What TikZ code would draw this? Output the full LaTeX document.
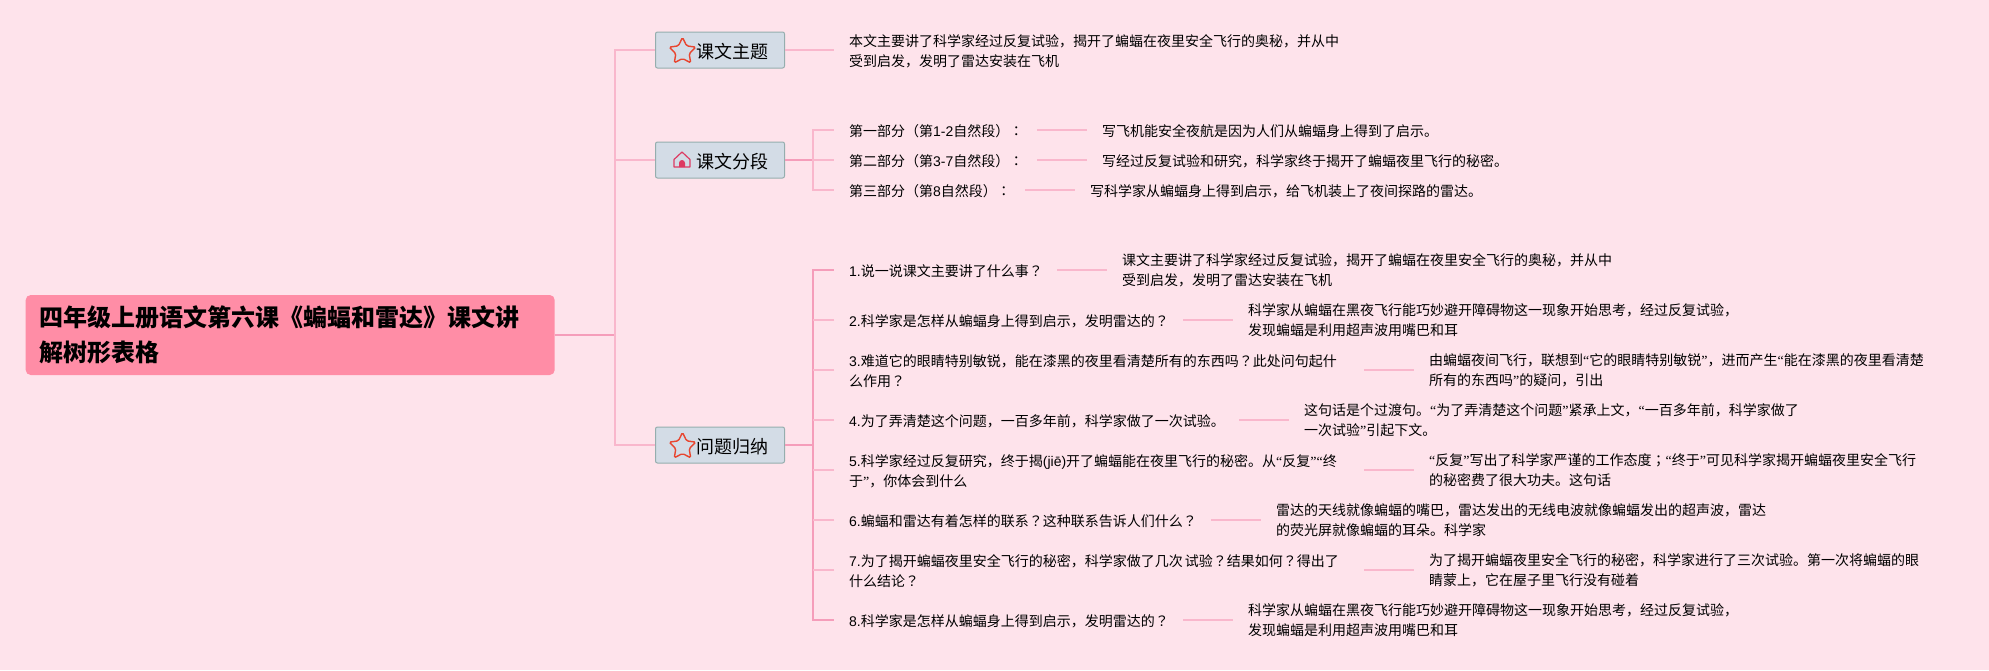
\documentclass[tikz,border=0pt]{standalone}
\usepackage{fontspec}
\usetikzlibrary{shapes.geometric}
\setmainfont{Noto Sans CJK SC}
\newfontfamily\punctfont{Noto Sans CJK TC}
\newfontfamily\latinfont{Liberation Sans}
\newfontfamily\quotefont{Liberation Serif}
\newcommand{\lat}[1]{\mbox{\latinfont #1}}
\newcommand{\qt}[1]{{\quotefont #1}}
\newcommand{\qmark}{{\punctfont ？}}
\newcommand{\cmark}{{\punctfont ：}}
\newcommand{\smark}{{\punctfont ；}}
\definecolor{mapbg}{HTML}{FEE3EB}
\definecolor{rootpink}{HTML}{FF8DA6}
\definecolor{boxfill}{HTML}{D3DCE6}
\definecolor{boxline}{HTML}{95AEAE}
\definecolor{linkdark}{HTML}{F59DBA}
\definecolor{linklight}{HTML}{F9B7CC}
\definecolor{iconred}{HTML}{E8452F}
\definecolor{iconrose}{HTML}{DD3A62}
\tikzset{
  rootnode/.style={fill=rootpink, rounded corners=5pt, inner xsep=14pt, inner ysep=0pt,
    minimum height=80pt, text width=501pt, align=left, anchor=west,
    font=\fontsize{24}{35}\selectfont\bfseries},
  topicnode/.style={draw=boxline, line width=1pt, fill=boxfill, rounded corners=2pt,
    inner xsep=16pt, inner ysep=0pt, minimum height=36pt, text width=97pt, align=right,
    anchor=west, font=\fontsize{18}{20}\selectfont,
    execute at begin node={\rule{0pt}{18pt}}},
  leafnode/.style={inner xsep=15pt, inner ysep=0pt, align=left, anchor=west,
    font=\fontsize{14}{20}\selectfont,
    execute at begin node={\rule{0pt}{15pt}}},
  mainlink/.style={draw=linklight, line width=1.4pt},
  thicklink/.style={draw=linkdark, line width=2pt},
  leaflink/.style={draw=linklight, line width=1.6pt},
  stariconn/.style={star, star points=5, star point ratio=2.0, draw=iconred, line width=1.4pt,
    minimum size=28pt, inner sep=0pt, rounded corners=1.5pt},
}
\begin{document}
\begin{tikzpicture}[x=1pt,y=-1pt]
  \fill[mapbg] (0,0) rectangle (1989,670);
  \useasboundingbox (0,0) rectangle (1989,670);

  % root and the three topics
  \node[rootnode] (root) at (25.5,335) {四年级上册语文第六课《蝙蝠和雷达》课文讲\\解树形表格};
  \node[topicnode] (theme) at (655,50) {课文主题};
  \node[topicnode] (parts) at (655,160) {课文分段};
  \node[topicnode] (asks) at (655,445) {问题归纳};
  \coordinate (trunk) at (615,335);
  \coordinate (partfork) at (813,160);
  \coordinate (askfork) at (813,445);

  % first column
  \node[leafnode, text width=500pt] (themetext) at (834,50) {本文主要讲了科学家经过反复试验，揭开了蝙蝠在夜里安全飞行的奥秘，并从中\\受到启发，发明了雷达安装在飞机};

  \node[leafnode, text width=173pt] (parta) at (834,130) {\mbox{第一部分（第\lat{1-2}自然段）\cmark}};
  \node[leafnode, text width=173pt] (partb) at (834,160) {\mbox{第二部分（第\lat{3-7}自然段）\cmark}};
  \node[leafnode, text width=161pt] (partc) at (834,190) {\mbox{第三部分（第\lat{8}自然段）\cmark}};
  \node[leafnode] (partatext) at (1087,130) {写飞机能安全夜航是因为人们从蝙蝠身上得到了启示。};
  \node[leafnode] (partbtext) at (1087,160) {写经过反复试验和研究，科学家终于揭开了蝙蝠夜里飞行的秘密。};
  \node[leafnode] (partctext) at (1075,190) {写科学家从蝙蝠身上得到启示，给飞机装上了夜间探路的雷达。};

  \node[leafnode, text width=193pt] (aska) at (834,270) {\lat{1.}说一说课文主要讲了什么事\qmark};
  \node[leafnode, text width=319pt] (askb) at (834,320) {\lat{2.}科学家是怎样从蝙蝠身上得到启示，发明雷达的\qmark};
  \node[leafnode, text width=500pt] (askc) at (834,370) {\lat{3.}难道它的眼睛特别敏锐，能在漆黑的夜里看清楚所有的东西吗\qmark 此处问句起什\\么作用\qmark};
  \node[leafnode, text width=375pt] (askd) at (834,420) {\lat{4.}为了弄清楚这个问题，一百多年前，科学家做了一次试验。};
  \node[leafnode, text width=500pt] (aske) at (834,470) {\lat{5.}科学家经过反复研究，终于揭\lat{(jiē)}开了蝙蝠能在夜里飞行的秘密。从\qt{“}反复\qt{”“}终\\于\qt{”}，你体会到什么};
  \node[leafnode, text width=347pt] (askf) at (834,520) {\lat{6.}蝙蝠和雷达有着怎样的联系\qmark 这种联系告诉人们什么\qmark};
  \node[leafnode, text width=500pt] (askg) at (834,570) {\lat{7.}为了揭开蝙蝠夜里安全飞行的秘密，科学家做了几次\kern2pt 试验\qmark 结果如何\qmark 得出了\\什么结论\qmark};
  \node[leafnode, text width=319pt] (askh) at (834,620) {\lat{8.}科学家是怎样从蝙蝠身上得到启示，发明雷达的\qmark};

  % second column
  \node[leafnode] (askatext) at (1107,270) {课文主要讲了科学家经过反复试验，揭开了蝙蝠在夜里安全飞行的奥秘，并从中\\受到启发，发明了雷达安装在飞机};
  \node[leafnode] (askbtext) at (1233,320) {科学家从蝙蝠在黑夜飞行能巧妙避开障碍物这一现象开始思考，经过反复试验，\\发现蝙蝠是利用超声波用嘴巴和耳};
  \node[leafnode] (askctext) at (1414,370) {由蝙蝠夜间飞行，联想到\qt{“}它的眼睛特别敏锐\qt{”}，进而产生\qt{“}能在漆黑的夜里看清楚\\所有的东西吗\qt{”}的疑问，引出};
  \node[leafnode] (askdtext) at (1289,420) {这句话是个过渡句。\qt{“}为了弄清楚这个问题\qt{”}紧承上文，\qt{“}一百多年前，科学家做了\\一次试验\qt{”}引起下文。};
  \node[leafnode] (asketext) at (1414,470) {\qt{“}反复\qt{”}写出了科学家严谨的工作态度\smark\qt{“}终于\qt{”}可见科学家揭开蝙蝠夜里安全飞行\\的秘密费了很大功夫。这句话};
  \node[leafnode] (askftext) at (1261,520) {雷达的天线就像蝙蝠的嘴巴，雷达发出的无线电波就像蝙蝠发出的超声波，雷达\\的荧光屏就像蝙蝠的耳朵。科学家};
  \node[leafnode] (askgtext) at (1414,570) {为了揭开蝙蝠夜里安全飞行的秘密，科学家进行了三次试验。第一次将蝙蝠的眼\\睛蒙上，它在屋子里飞行没有碰着};
  \node[leafnode] (askhtext) at (1233,620) {科学家从蝙蝠在黑夜飞行能巧妙避开障碍物这一现象开始思考，经过反复试验，\\发现蝙蝠是利用超声波用嘴巴和耳};

  % connectors
  \draw[thicklink] (root.east) -- (trunk);
  \draw[mainlink] (theme.west) -| (trunk);
  \draw[mainlink] (asks.west) -| (trunk);
  \draw[mainlink] (parts.west) -- (parts.west -| trunk);
  \draw[leaflink] (theme.east) -- (themetext.west);
  \draw[thicklink] (parts.east) -- (partfork);
  \draw[thicklink] (asks.east) -- (askfork);
  \draw[mainlink] (partfork) |- (parta.west);
  \draw[mainlink] (partfork) -- (partb.west);
  \draw[mainlink] (partfork) |- (partc.west);
  \draw[leaflink] (parta.east) -- (partatext.west);
  \draw[leaflink] (partb.east) -- (partbtext.west);
  \draw[leaflink] (partc.east) -- (partctext.west);
  \draw[thicklink] (askfork) |- (aska.west);
  \draw[thicklink] (askfork) |- (askh.west);
  \draw[mainlink] (askb.west) -- (askb.west -| askfork);
  \draw[mainlink] (askc.west) -- (askc.west -| askfork);
  \draw[mainlink] (askd.west) -- (askd.west -| askfork);
  \draw[mainlink] (aske.west) -- (aske.west -| askfork);
  \draw[mainlink] (askf.west) -- (askf.west -| askfork);
  \draw[mainlink] (askg.west) -- (askg.west -| askfork);
  \draw[leaflink] (aska.east) -- (askatext.west);
  \draw[leaflink] (askb.east) -- (askbtext.west);
  \draw[leaflink] (askc.east) -- (askctext.west);
  \draw[leaflink] (askd.east) -- (askdtext.west);
  \draw[leaflink] (aske.east) -- (asketext.west);
  \draw[leaflink] (askf.east) -- (askftext.west);
  \draw[leaflink] (askg.east) -- (askgtext.west);
  \draw[leaflink] (askh.east) -- (askhtext.west);

  % icons
  \node[stariconn] (themestar) at (682.5,51.5) {};
  \node[stariconn] (asksstar) at (682.5,446.5) {};
  \draw[iconrose, line width=1.2pt, line join=round] (674,167) -- (674,159.5) -- (682,152) -- (690,159.5) -- (690,167) -- cycle;
  \fill[iconrose] (679,167) -- (679,163) arc[start angle=180, end angle=0, radius=3pt] -- (685,167) -- cycle;
\end{tikzpicture}
\end{document}
